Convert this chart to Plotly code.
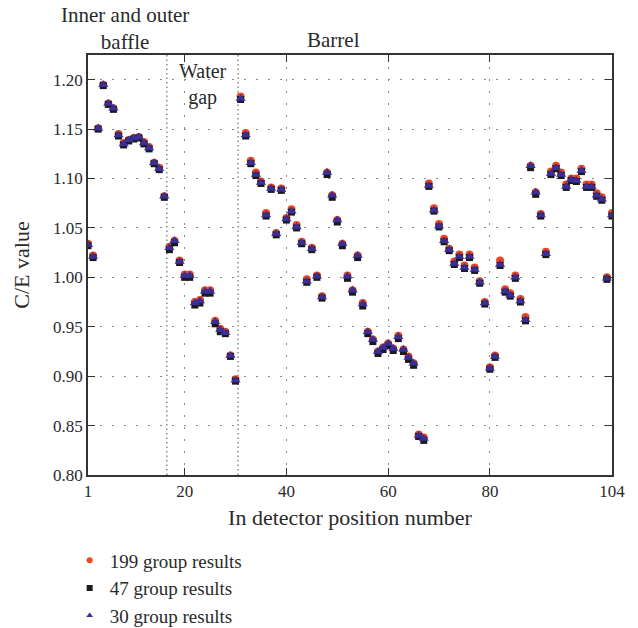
import plotly.graph_objects as go

positions = list(range(1, 105))

# 30 group results (blue triangles)
g30 = [1.033, 1.021, 1.151, 1.195, 1.176, 1.171, 1.144, 1.135, 1.139, 1.141,
       1.142, 1.136, 1.131, 1.116, 1.110, 1.082, 1.030, 1.037, 1.016, 1.002,
       1.002, 0.974, 0.976, 0.986, 0.986, 0.955, 0.947, 0.944, 0.921, 0.896,
       1.181, 1.144, 1.116, 1.104, 1.096, 1.063, 1.090, 1.044, 1.089, 1.059,
       1.067, 1.051, 1.035, 0.996, 1.029, 1.001, 0.980, 1.106, 1.083, 1.058,
       1.034, 1.001, 0.987, 1.022, 0.973, 0.945, 0.937, 0.925, 0.929, 0.933,
       0.928, 0.940, 0.927, 0.919, 0.913, 0.840, 0.837, 1.093, 1.068, 1.052,
       1.037, 1.028, 1.014, 1.021, 1.010, 1.021, 1.008, 0.995, 0.974, 0.908,
       0.920, 1.013, 0.986, 0.982, 1.000, 0.976, 0.957, 1.113, 1.086, 1.063,
       1.024, 1.105, 1.111, 1.104, 1.092, 1.099, 1.098, 1.108, 1.092, 1.092,
       1.083, 1.079, 0.999, 1.063]

# 47 group results (black squares)
g47 = [1.032, 1.020, 1.150, 1.194, 1.175, 1.170, 1.143, 1.134, 1.138, 1.140,
       1.141, 1.135, 1.130, 1.115, 1.109, 1.081, 1.028, 1.035, 1.015, 1.000,
       1.000, 0.972, 0.974, 0.984, 0.984, 0.953, 0.945, 0.943, 0.920, 0.895,
       1.180, 1.143, 1.115, 1.103, 1.095, 1.062, 1.089, 1.043, 1.088, 1.058,
       1.066, 1.050, 1.034, 0.995, 1.028, 1.000, 0.979, 1.104, 1.081, 1.056,
       1.032, 0.999, 0.985, 1.020, 0.971, 0.943, 0.935, 0.923, 0.927, 0.931,
       0.926, 0.938, 0.925, 0.917, 0.911, 0.839, 0.835, 1.092, 1.067, 1.051,
       1.036, 1.027, 1.013, 1.020, 1.009, 1.020, 1.007, 0.994, 0.973, 0.907,
       0.919, 1.012, 0.985, 0.981, 0.999, 0.975, 0.956, 1.111, 1.084, 1.062,
       1.023, 1.104, 1.110, 1.103, 1.091, 1.098, 1.097, 1.107, 1.091, 1.091,
       1.082, 1.078, 0.998, 1.062]

# 199 group results (red circles)
g199 = [1.034, 1.022, 1.151, 1.195, 1.176, 1.171, 1.145, 1.136, 1.139, 1.141,
        1.142, 1.137, 1.132, 1.116, 1.111, 1.082, 1.031, 1.037, 1.017, 1.003,
        1.003, 0.975, 0.977, 0.987, 0.987, 0.956, 0.948, 0.945, 0.921, 0.897,
        1.183, 1.146, 1.118, 1.106, 1.097, 1.065, 1.091, 1.045, 1.090, 1.060,
        1.069, 1.053, 1.036, 0.998, 1.030, 1.002, 0.981, 1.106, 1.083, 1.058,
        1.034, 1.002, 0.987, 1.022, 0.974, 0.945, 0.937, 0.925, 0.929, 0.933,
        0.928, 0.941, 0.927, 0.920, 0.913, 0.841, 0.838, 1.095, 1.070, 1.054,
        1.039, 1.029, 1.016, 1.023, 1.012, 1.023, 1.010, 0.996, 0.975, 0.909,
        0.921, 1.017, 0.988, 0.984, 1.002, 0.978, 0.960, 1.113, 1.086, 1.064,
        1.026, 1.107, 1.113, 1.106, 1.094, 1.100, 1.100, 1.110, 1.094, 1.094,
        1.085, 1.081, 1.000, 1.065]

series_names = ["199 group results", "47 group results", "30 group results"]
x_ticks = [1, 20, 40, 60, 80, 104]
y_ticks = [0.80, 0.85, 0.90, 0.95, 1.00, 1.05, 1.10, 1.15, 1.20]
y_ticktext = ["0.80", "0.85", "0.90", "0.95", "1.00", "1.05", "1.10", "1.15", "1.20"]
region_bounds = [16.5, 30.5]

FONT = "Liberation Serif, DejaVu Serif, serif"
TXT = "#2a2a2a"
colors = ["#f0461e", "#1a1a1a", "#3a2f98"]
symbols = ["circle", "square", "triangle-up"]
sizes = [8, 7, 9]

fig = go.Figure()
for vals, name, col, sym, sz in zip([g199, g47, g30], series_names, colors, symbols, sizes):
    fig.add_trace(go.Scatter(x=positions, y=vals, mode="markers", name=name,
                             showlegend=False,
                             marker=dict(symbol=sym, size=sz, color=col)))
# legend entries with small markers, as in the reference
for name, col, sym in zip(series_names, colors, symbols):
    fig.add_trace(go.Scatter(x=[None], y=[None], mode="markers", name=name,
                             marker=dict(symbol=sym, size=6, color=col)))

for b in region_bounds:
    fig.add_shape(type="line", xref="x", yref="paper", x0=b, x1=b, y0=0, y1=1,
                  line=dict(color="#777777", width=1.3, dash="1.5px,3px"), layer="below")

fig.add_annotation(text="Inner and outer<br>baffle", xref="paper", yref="paper",
                   x=0.071, y=1.062, xanchor="center", yanchor="middle", showarrow=False,
                   font=dict(family=FONT, size=21, color=TXT), align="center")
fig.add_annotation(text="Water<br>gap", xref="x", yref="paper",
                   x=23.6, y=0.93, xanchor="center", yanchor="middle", showarrow=False,
                   font=dict(family=FONT, size=20, color=TXT), align="center")
fig.add_annotation(text="Barrel", xref="x", yref="paper",
                   x=49.2, y=1.036, xanchor="center", yanchor="middle", showarrow=False,
                   font=dict(family=FONT, size=21, color=TXT))

axis_common = dict(showline=True, linecolor="#333333", linewidth=1.5, mirror="ticks",
                   ticks="inside", ticklen=7, tickwidth=1.2, tickcolor="#333333",
                   showgrid=True, gridcolor="#888888", gridwidth=1.2,
                   griddash="2px,10px", zeroline=False,
                   tickfont=dict(family=FONT, size=17, color=TXT))

fig.update_xaxes(range=[1, 104], tickvals=x_ticks,
                 title=dict(text="In detector position number",
                            font=dict(family=FONT, size=22, color=TXT), standoff=9),
                 **axis_common)
fig.update_yaxes(range=[0.80, 1.225], tickvals=y_ticks, ticktext=y_ticktext,
                 title=dict(text="C/E value",
                            font=dict(family=FONT, size=22, color=TXT), standoff=17),
                 **axis_common)

fig.update_layout(
    width=638, height=628,
    margin=dict(l=88, r=26, t=55, b=153, autoexpand=False),
    paper_bgcolor="white", plot_bgcolor="white",
    showlegend=True,
    legend=dict(x=-0.035, y=-0.158, xanchor="left", yanchor="top",
                font=dict(family=FONT, size=19, color=TXT),
                itemsizing="trace", itemwidth=30, tracegroupgap=0,
                bgcolor="rgba(0,0,0,0)"),
)

fig.write_html("out.html")
